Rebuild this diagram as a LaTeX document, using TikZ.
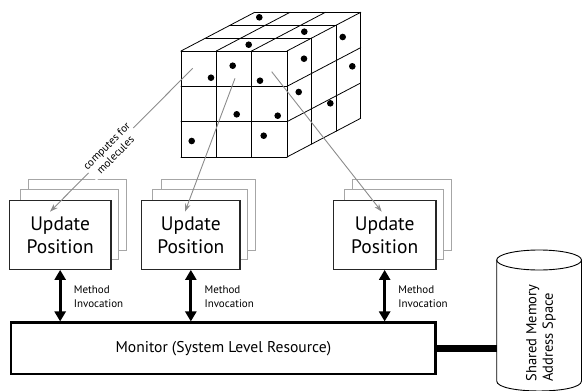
\documentclass[tikz,border=0pt]{standalone}
\usepackage{fontspec}
\setmainfont{PT Sans}
\usetikzlibrary{arrows.meta,backgrounds}

\begin{document}
\begin{tikzpicture}[x=1pt,y=-1pt,
  cube/.style={line width=0.8pt, line join=round, line cap=round},
  feed/.style={draw=black!45, line width=0.9pt, -{Stealth[length=8pt,width=5.5pt]}},
  upd/.style={draw=black!85, fill=white, line width=1.2pt, align=center,
    font=\fontsize{19.5}{23}\selectfont, inner sep=0pt, minimum height=68.6pt},
  ghost/.style={draw=black!35, fill=white, line width=0.9pt},
  inv/.style={line width=3pt, {Triangle[length=10pt,width=11pt]}-{Triangle[length=10pt,width=11pt]}},
  meth/.style={anchor=west, align=left, font=\fontsize{11}{14.3}\selectfont, inner sep=0pt},
  monbox/.style={draw, line width=2.5pt, minimum width=424.7pt, minimum height=51.3pt,
    font=\fontsize{15.6}{18}\selectfont},
]
\useasboundingbox (0,0) rectangle (582,391);

% ---- cube of cells ----
\def\cubx{181}\def\cuby{51}\def\cubs{35.33}\def\cubdx{24.57}\def\cubdy{-12.9}
\foreach \i in {0,...,3} {
  \draw[cube] (\cubx+\i*\cubs,\cuby) -- ++(0,3*\cubs);
  \draw[cube] (\cubx,\cuby+\i*\cubs) -- ++(3*\cubs,0);
  \draw[cube] (\cubx+\i*\cubs,\cuby) -- ++(3*\cubdx,3*\cubdy);
}
\foreach \k in {1,2,3} {
  \draw[cube] (\cubx+\k*\cubdx,\cuby+\k*\cubdy) -- ++(3*\cubs,0);
  \draw[cube] (\cubx+3*\cubs+\k*\cubdx,\cuby+\k*\cubdy) -- ++(0,3*\cubs);
  \draw[cube] (\cubx+3*\cubs,\cuby+\k*\cubs) -- ++(3*\cubdx,3*\cubdy);
}
% molecules
\foreach \p in {(259.3,17.3),(304.3,31.7),(248.7,44.7),(342.7,37),
                (211,77.7),(232.7,65.7),(260,80.7),(236.7,114.3),(277.7,115.7),
                (191.7,141),(263.7,135.7),
                (304,58.7),(352.3,66.3),(298.7,92),(330.3,103.3)}
  \fill \p circle (3.3);

% ---- update position workers ----
\node[upd, minimum width=101.7pt] (u1) at (60.15,235) {Update\\Position};
\node[upd, minimum width=98.3pt]  (u2) at (190.85,235) {Update\\Position};
\node[upd, minimum width=102.7pt] (u3) at (384.65,235) {Update\\Position};
\begin{scope}[on background layer]
  \foreach \u in {u1,u2,u3} {
    \draw[ghost] ([shift={(20,-20.7)}]\u.north west) rectangle ([shift={(15,-19.3)}]\u.south east);
    \draw[ghost] ([shift={(11.4,-10.7)}]\u.north west) rectangle ([shift={(7.3,-10)}]\u.south east);
  }
\end{scope}

% ---- monitor ----
\node[monbox] (mon) at (223.35,348.35) {Monitor (System Level Resource)};

\foreach \u in {u1,u2,u3} {
  \draw[inv] (\u.south) -- (\u.south |- mon.north);
  \node[meth] at ([shift={(13.5,27)}]\u.south) {Method\\Invocation};
}

% ---- shared memory ----
\draw[line width=0.9pt] (496.7,260) -- (496.7,381)
  .. controls (496.7,394.3) and (581.5,394.3) .. (581.5,381) -- (581.5,260);
\draw[line width=0.9pt] (539.1,260) ellipse [x radius=42.4, y radius=10];
\node[rotate=90, align=left, font=\fontsize{14.5}{16.5}\selectfont, inner sep=0pt,
  anchor=west] (mem) at (540.8,381.7) {Shared Memory\\Address Space};
\coordinate (cylL) at (496.7,347.5);
\draw[line width=7.5pt] (mon.east) -- (mon.east -| cylL);

% ---- cells to workers ----
\coordinate (s1) at (192.7,68.3);  \coordinate (e1) at (50,211.7);
\coordinate (s2) at (235,78.3);    \coordinate (e2) at (185,211.7);
\coordinate (s3) at (271.7,71.7);  \coordinate (e3) at (381.7,211.7);
\draw[feed] (s1) -- node[pos=0.573, rotate=45, fill=white, inner sep=1pt, align=center,
  font=\fontsize{11}{12.5}\selectfont] (lab) {computes for\\molecules} (e1);
\draw[feed] (s2) -- (e2);
\draw[feed] (s3) -- (e3);
\end{tikzpicture}
\end{document}
